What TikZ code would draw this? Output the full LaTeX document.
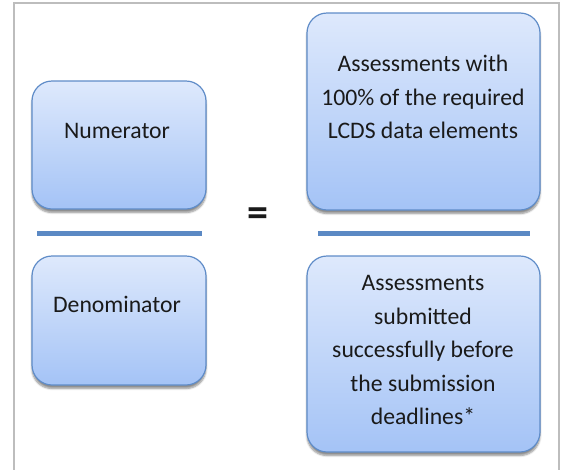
\documentclass[tikz,border=0pt]{standalone}
\usepackage{fontspec}
\setmainfont{Carlito}
\usetikzlibrary{shadows.blur}
\definecolor{boxtop}{HTML}{DEE9FC}
\definecolor{boxbot}{HTML}{A4C3F6}
\definecolor{boxline}{HTML}{5F8CC8}
\definecolor{barcol}{HTML}{5B89C4}
\definecolor{framecol}{HTML}{BDBDBD}
\definecolor{txtcol}{HTML}{1A1A1A}
\tikzset{
  rbox/.style={draw=boxline, line width=1.2pt, rounded corners=20pt,
    top color=boxtop, bottom color=boxbot, inner sep=0pt,
    blur shadow={shadow xshift=0pt, shadow yshift=-3.5pt, shadow blur steps=6, shadow opacity=45}},
  btext/.style={text=txtcol, align=center, font=\fontsize{23.7}{33.5}\selectfont, inner sep=0pt},
  bar/.style={draw=barcol, line width=5pt},
}
\begin{document}
\begin{tikzpicture}[x=1pt,y=-1pt]
\useasboundingbox (0,0) rectangle (565,469);
\draw[framecol, line width=2pt] (14,470) -- (14,3) -- (559,3) -- (559,470);
% boxes
\node[rbox, minimum width=174pt, minimum height=128pt] (num) at (119,145) {};
\node[rbox, minimum width=174pt, minimum height=129pt] (den) at (119,320.5) {};
\node[rbox, minimum width=233pt, minimum height=197pt] (rtop) at (423.5,111.5) {};
\node[rbox, minimum width=233pt, minimum height=196pt] (rbot) at (423.5,354) {};
% texts
\node[btext] (numt) at (117,131) {Numerator};
\node[btext] (dent) at (117,304) {Denominator};
\node[btext] (rtopt) at (423,97) {Assessments with\\100\% of the required\\LCDS data elements};
\node[btext] (rbott) at (423,350) {Assessments\\submitted\\successfully before\\the submission\\deadlines*};
% bars
\coordinate (lb1) at (37,233);
\coordinate (lb2) at (202,233);
\coordinate (rb1) at (318,233);
\coordinate (rb2) at (530,233);
\draw[bar] (lb1) -- (lb2);
\draw[bar] (rb1) -- (rb2);
% equals
\node[text=txtcol, font=\bfseries\fontsize{42}{42}\selectfont, inner sep=0pt] (eq) at (257.5,217) {=};
\end{tikzpicture}
\end{document}
